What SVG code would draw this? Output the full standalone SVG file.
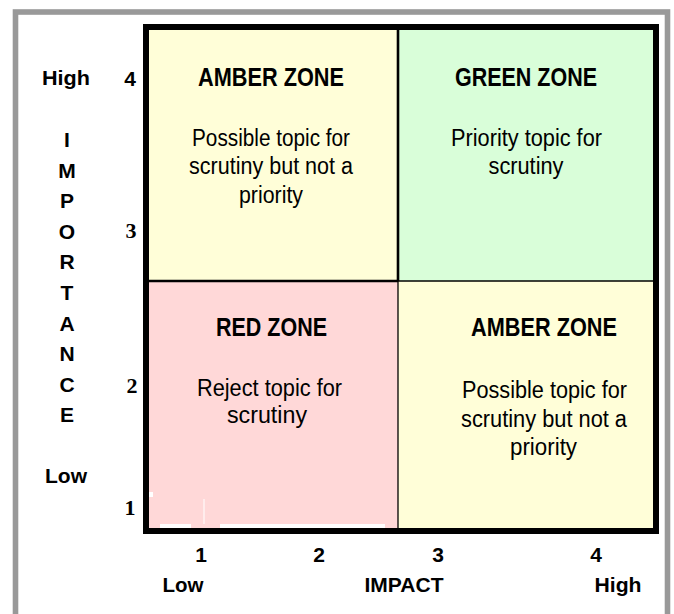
<svg xmlns="http://www.w3.org/2000/svg" width="674" height="614" viewBox="0 0 674 614">
<style>
.t{font-family:"Liberation Sans Narrow","Liberation Sans",Arial,sans-serif;font-weight:bold;font-size:26px;text-anchor:middle;fill:#000}
.b{font-family:"Liberation Sans",Arial,sans-serif;font-size:23.5px;text-anchor:middle;fill:#000}
.ax{font-family:"Liberation Sans",Arial,sans-serif;font-weight:bold;font-size:21px;text-anchor:middle;fill:#000}
.sf{font-family:"Liberation Serif","Times New Roman",serif;font-weight:bold;font-size:22px;text-anchor:middle;fill:#000}
.amber{fill:#FFFED8}
.green{fill:#D9FED9}
.red{fill:#FFD8D8}
</style>
<rect x="0" y="0" width="674" height="614" fill="#fff"/>
<rect x="15.5" y="12" width="652" height="620" fill="#fff" stroke="#999" stroke-width="5.6"/>

<g id="q-amber-top">
<rect class="amber" x="149" y="30" width="249" height="251"/>
<text class="t" x="271" y="86" textLength="146" lengthAdjust="spacingAndGlyphs">AMBER ZONE</text>
<text class="b" x="271" y="146" textLength="158" lengthAdjust="spacingAndGlyphs">Possible topic for</text>
<text class="b" x="271" y="174" textLength="164" lengthAdjust="spacingAndGlyphs">scrutiny but not a</text>
<text class="b" x="271" y="203" textLength="64" lengthAdjust="spacingAndGlyphs">priority</text>
</g>

<g id="q-green">
<rect class="green" x="398" y="30" width="255" height="251"/>
<text class="t" x="526" y="86" textLength="142" lengthAdjust="spacingAndGlyphs">GREEN ZONE</text>
<text class="b" x="526.5" y="146" textLength="151" lengthAdjust="spacingAndGlyphs">Priority topic for</text>
<text class="b" x="526" y="174" textLength="75" lengthAdjust="spacingAndGlyphs">scrutiny</text>
</g>

<g id="q-red">
<rect class="red" x="149" y="281" width="249" height="247"/>
<text class="t" x="271.5" y="336" textLength="111" lengthAdjust="spacingAndGlyphs">RED ZONE</text>
<text class="b" x="269.5" y="396" textLength="145" lengthAdjust="spacingAndGlyphs">Reject topic for</text>
<text class="b" x="267" y="423" textLength="80" lengthAdjust="spacingAndGlyphs">scrutiny</text>
<rect x="160" y="524" width="31" height="4" fill="#fff"/>
<rect x="220" y="524" width="165" height="4" fill="#fff"/>
<rect x="203.5" y="499" width="1" height="25" fill="#fff"/>
<rect x="148" y="492" width="5" height="5" fill="#fff"/>
</g>

<g id="q-amber-bottom">
<rect class="amber" x="398" y="281" width="255" height="247"/>
<text class="t" x="544" y="336" textLength="146" lengthAdjust="spacingAndGlyphs">AMBER ZONE</text>
<text class="b" x="544.5" y="398" textLength="165" lengthAdjust="spacingAndGlyphs">Possible topic for</text>
<text class="b" x="544" y="427" textLength="166" lengthAdjust="spacingAndGlyphs">scrutiny but not a</text>
<text class="b" x="543.5" y="455" textLength="67" lengthAdjust="spacingAndGlyphs">priority</text>
</g>

<g id="grid">
<line x1="398" y1="30" x2="398" y2="281" stroke="#000" stroke-width="2.6"/>
<line x1="398" y1="281" x2="398" y2="528" stroke="#000" stroke-width="1.3"/>
<line x1="149" y1="281" x2="398" y2="281" stroke="#000" stroke-width="2.4"/>
<line x1="398" y1="281" x2="653" y2="281" stroke="#000" stroke-width="1.4"/>
<rect x="146" y="27" width="510" height="504" fill="none" stroke="#000" stroke-width="6"/>
</g>

<g id="y-axis">
<text class="ax" x="66" y="85" textLength="48" lengthAdjust="spacingAndGlyphs">High</text>
<text class="ax" x="130" y="86">4</text>
<text class="sf" x="131" y="238">3</text>
<text class="sf" x="132" y="393">2</text>
<text class="sf" x="130" y="515">1</text>
<text class="ax" x="66" y="483" textLength="42" lengthAdjust="spacingAndGlyphs">Low</text>
<text class="ax" x="67" y="147">I</text>
<text class="ax" x="67" y="177.6">M</text>
<text class="ax" x="67" y="208.2">P</text>
<text class="ax" x="67" y="238.8">O</text>
<text class="ax" x="67" y="269.4">R</text>
<text class="ax" x="67" y="300">T</text>
<text class="ax" x="67" y="330.6">A</text>
<text class="ax" x="67" y="361.2">N</text>
<text class="ax" x="67" y="391.8">C</text>
<text class="ax" x="67" y="422.4">E</text>
</g>

<g id="x-axis">
<text class="ax" x="201" y="562">1</text>
<text class="ax" x="319" y="562">2</text>
<text class="ax" x="438" y="562">3</text>
<text class="ax" x="596" y="562">4</text>
<text class="ax" x="183" y="592" textLength="41" lengthAdjust="spacingAndGlyphs">Low</text>
<text class="ax" x="404" y="592" textLength="79" lengthAdjust="spacingAndGlyphs">IMPACT</text>
<text class="ax" x="618" y="592" textLength="47" lengthAdjust="spacingAndGlyphs">High</text>
</g>
</svg>
